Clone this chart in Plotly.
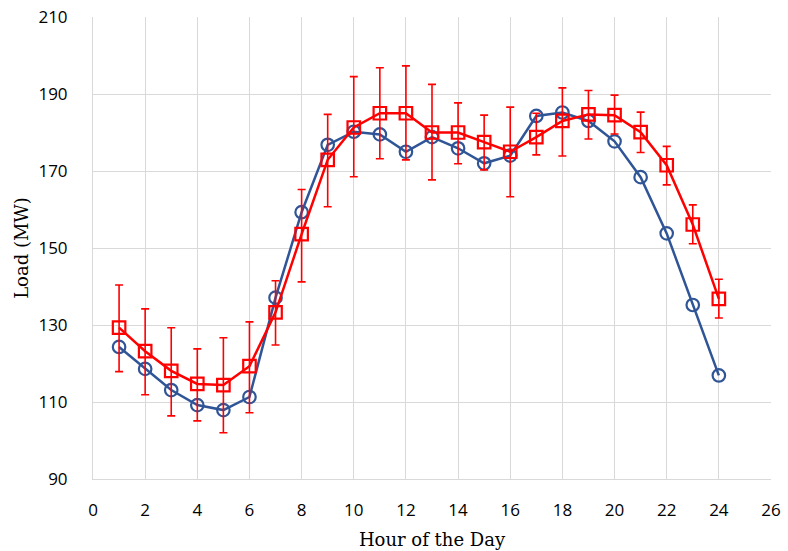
import plotly.graph_objects as go

# Hourly load profile: hours of the day
hours = list(range(1, 25))

# Actual load (MW)
load_actual = [124.3, 118.6, 113.1, 109.2, 107.9, 111.3, 137.1, 159.3, 176.8, 180.2,
               179.5, 175.0, 178.8, 175.9, 172.0, 174.0, 184.3, 185.2, 183.0, 177.7,
               168.4, 153.8, 135.2, 116.9]

# Forecast load (MW) and its spread
load_forecast = [129.3, 123.2, 118.1, 114.7, 114.4, 119.3, 133.3, 153.6, 172.9, 181.3,
                 185.0, 185.0, 180.0, 180.0, 177.5, 175.0, 178.8, 183.0, 184.7, 184.5,
                 180.1, 171.5, 156.1, 136.8]
err_plus = [11.1, 11.0, 11.2, 9.1, 12.3, 11.5, 8.2, 11.6, 11.8, 13.2,
            11.8, 12.3, 12.5, 7.7, 7.0, 11.6, 6.2, 8.6, 6.2, 5.2,
            5.2, 4.9, 5.1, 5.1]
err_minus = [11.4, 11.3, 11.7, 9.6, 12.4, 12.1, 8.5, 12.4, 12.2, 12.8,
             11.8, 12.1, 12.3, 8.1, 7.2, 11.7, 4.6, 9.1, 6.4, 4.9,
             5.3, 5.1, 5.0, 5.0]

x_ticks = list(range(0, 27, 2))
y_ticks = list(range(90, 211, 20))

BLUE = "#2F5597"
RED = "#FF0000"
GRID = "#D9D9D9"

fig = go.Figure()

fig.add_trace(go.Scatter(
    x=hours, y=load_actual, mode="lines+markers",
    line=dict(color=BLUE, width=2.5),
    marker=dict(symbol="circle-open", size=12.5, color=BLUE, line=dict(width=2.2, color=BLUE)),
    showlegend=False,
))

fig.add_trace(go.Scatter(
    x=hours, y=load_forecast, mode="lines+markers",
    line=dict(color=RED, width=2.5),
    marker=dict(symbol="square-open", size=12.5, color=RED, line=dict(width=2.2, color=RED)),
    error_y=dict(type="data", symmetric=False, array=err_plus, arrayminus=err_minus,
                 color=RED, thickness=1.6, width=4),
    showlegend=False,
))

fig.update_layout(
    width=788, height=551,
    margin=dict(l=93, r=17, t=17, b=72),
    paper_bgcolor="white", plot_bgcolor="white",
    font=dict(family="Open Sans", color="#000000"),
)

fig.update_xaxes(
    range=[0, 26], tickvals=x_ticks, ticktext=[str(v) for v in x_ticks],
    showgrid=True, gridcolor=GRID, gridwidth=1,
    showline=True, linecolor=GRID, linewidth=1,
    zeroline=False, ticks="", ticklabelstandoff=16, automargin=False,
    tickfont=dict(family="Open Sans", size=17, color="#000000"),
    title=dict(text="Hour of the Day", font=dict(family="DejaVu Serif", size=18, color="#000000"),
               standoff=12),
)
fig.update_yaxes(
    range=[90, 210], tickvals=y_ticks, ticktext=[str(v) for v in y_ticks],
    showgrid=True, gridcolor=GRID, gridwidth=1,
    showline=True, linecolor=GRID, linewidth=1,
    zeroline=False, ticks="", ticklabelstandoff=21, automargin=False,
    tickfont=dict(family="Open Sans", size=17, color="#000000"),
    title=dict(text="Load (MW)", font=dict(family="DejaVu Serif", size=18, color="#000000"),
               standoff=5),
)

fig.write_html("out.html")
